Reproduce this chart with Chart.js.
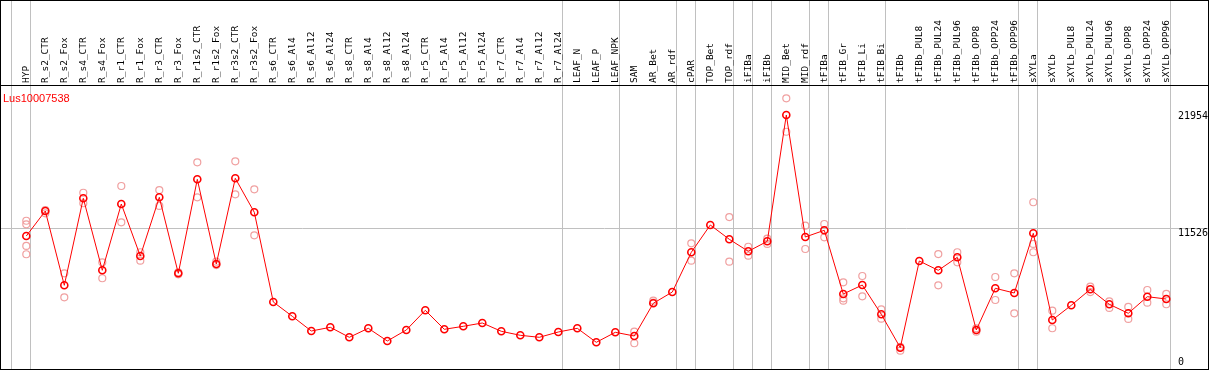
<!DOCTYPE html>
<html>
<head>
<meta charset="utf-8">
<script src="https://cdn.jsdelivr.net/npm/chart.js"></script>
<style>
  body { margin: 0; background: #fff; }
  #wrap { width: 1207px; height: 368px; border: 1px solid #000; }
  canvas { display: block; }
</style>
</head>
<body>
<div id="wrap"><canvas id="chart" width="1207" height="368"></canvas></div>
<script>
const geneId = 'Lus10007538'

const categories = [
  'HYP', 'R_s2_CTR', 'R_s2_Fox', 'R_s4_CTR', 'R_s4_Fox', 'R_r1_CTR', 'R_r1_Fox', 'R_r3_CTR', 'R_r3_Fox',
  'R_r1s2_CTR', 'R_r1s2_Fox', 'R_r3s2_CTR', 'R_r3s2_Fox', 'R_s6_CTR', 'R_s6_Al4', 'R_s6_Al12', 'R_s6_Al24',
  'R_s8_CTR', 'R_s8_Al4', 'R_s8_Al12', 'R_s8_Al24', 'R_r5_CTR', 'R_r5_Al4', 'R_r5_Al12', 'R_r5_Al24',
  'R_r7_CTR', 'R_r7_Al4', 'R_r7_Al12', 'R_r7_Al24', 'LEAF_N', 'LEAF_P', 'LEAF_NPK', 'SAM', 'AR_Bet', 'AR_rdf',
  'cPAR', 'TOP_Bet', 'TOP_rdf', 'iFIBa', 'iFIBb', 'MID_Bet', 'MID_rdf', 'tFIBa', 'tFIB_Gr', 'tFIB_Li', 'tFIB_Bi',
  'tFIBb', 'tFIBb_PUL8', 'tFIBb_PUL24', 'tFIBb_PUL96', 'tFIBb_OPP8', 'tFIBb_OPP24', 'tFIBb_OPP96',
  'sXYLa', 'sXYLb', 'sXYLb_PUL8', 'sXYLb_PUL24', 'sXYLb_PUL96', 'sXYLb_OPP8', 'sXYLb_OPP24', 'sXYLb_OPP96'
]

// mean expression per sample
const means = [
  10839, 13069, 6441, 14202, 7779, 13694, 9055, 14291, 7511, 15897, 8341, 15987, 12953, 4951, 3675, 2364,
  2694, 1802, 2605, 1472, 2453, 4211, 2516, 2783, 3078, 2337, 1980, 1802, 2275, 2605, 1356, 2248, 1918,
  4835, 5843, 9385, 11820, 10545, 9474, 10366, 21633, 10750, 11347, 5665, 6468, 3854, 874, 8609, 7779,
  8939, 2453, 6173, 5754, 11080, 3345, 4657, 6084, 4746, 3943, 5424, 5219
]

// single replicates (only the ones that show apart from the mean)
const replicates = [
  [12200, 11880, 9950, 9210], [13160, 12860], [7510, 5370], [14700, 13760], [8490, 7070],
  [15300, 12060], [9390, 8640], [14940, 13520], [7600, 7420], [17410, 14290], [8550, 8250],
  [17500, 14560], [15000, 10900], [], [], [], [], [], [], [], [], [], [], [], [], [], [], [], [], [], [],
  [], [2300, 1270], [5070, 4900], [], [10190, 8640], [], [12530, 8550], [9880, 9080], [10600, 10130],
  [23120, 20140], [11760, 9680], [11910, 10720], [6710, 5280, 5070], [7270, 5460], [4300, 3460],
  [960, 610], [], [9230, 6440], [9390, 8490], [2600, 2300], [7180, 5130], [7510, 3940],
  [13850, 10130, 9390], [4180, 2610], [], [6320, 5840], [5010, 4420], [4510, 3440], [6020, 4890], [5670, 4750]
]

// samples after which a grey separator is drawn (-1 = before the first one)
const groupEnds = [-1, 0, 28, 31, 34, 35, 37, 38, 39, 41, 42, 45, 52, 53, 60]

const yTicks = [0, 11526, 21954]

const sepOffset = 0.22
const sepValues = groupEnds.map(k => k + sepOffset)
const isSep = v => sepValues.some(s => Math.abs(s - v) < 1e-6)

const meanPoints = means.map((v, i) => ({ x: i, y: v }))
const repPoints = []
replicates.forEach((list, i) => list.forEach(v => repPoints.push({ x: i, y: v })))

function noPadding(scale) {
  scale.paddingLeft = 0
  scale.paddingRight = 0
  scale.paddingTop = 0
  scale.paddingBottom = 0
}

const geneLabel = {
  id: 'geneLabel',
  afterDraw(chart) {
    const { ctx, chartArea } = chart
    ctx.save()
    ctx.font = '11px "Liberation Sans", Arial, sans-serif'
    ctx.fillStyle = '#ff0000'
    ctx.textBaseline = 'top'
    ctx.fillText(chart.data.datasets[0].label, chartArea.left + 2, chartArea.top + 8)
    ctx.restore()
  }
}

const ctx = document.getElementById('chart').getContext('2d')
new Chart(ctx, {
  type: 'line',
  data: {
    datasets: [
      {
        label: geneId,
        data: meanPoints,
        borderColor: '#ff0000',
        borderWidth: 1,
        pointRadius: 3.5,
        pointBorderWidth: 1.6,
        pointBorderColor: '#ff0000',
        pointBackgroundColor: 'rgba(0,0,0,0)',
        tension: 0,
        order: 1
      },
      {
        type: 'scatter',
        label: 'replicates',
        data: repPoints,
        showLine: false,
        pointRadius: 3.5,
        pointBorderWidth: 1.2,
        pointBorderColor: '#f0a0a0',
        pointBackgroundColor: 'rgba(0,0,0,0)',
        order: 2
      }
    ]
  },
  options: {
    responsive: false,
    animation: false,
    layout: { padding: 0, autoPadding: false },
    plugins: { legend: { display: false }, tooltip: { enabled: false } },
    scales: {
      x: {
        type: 'linear',
        position: 'top',
        min: -1.3316,
        max: 62.195,
        afterBuildTicks: scale => {
          const vals = categories.map((c, i) => i).concat(sepValues).sort((a, b) => a - b)
          scale.ticks = vals.map(v => ({ value: v }))
        },
        afterFit: scale => { scale.height = 84; noPadding(scale) },
        ticks: {
          autoSkip: false,
          minRotation: 90,
          maxRotation: 90,
          padding: -82,
          labelOffset: 11.5,
          color: '#000',
          font: { family: '"DejaVu Sans Mono", monospace', size: 9.5 },
          callback: v => Number.isInteger(v) ? categories[v] : ''
        },
        grid: {
          color: c => c.tick && isSep(c.tick.value) ? '#c0c0c0' : 'rgba(0,0,0,0)',
          lineWidth: 1,
          tickLength: 84
        },
        border: { display: true, color: '#000', width: 1 }
      },
      y: {
        type: 'linear',
        position: 'right',
        min: -1026,
        max: 24311,
        afterBuildTicks: scale => { scale.ticks = yTicks.map(v => ({ value: v })) },
        afterFit: scale => { scale.width = 0; noPadding(scale) },
        ticks: {
          mirror: true,
          crossAlign: 'far',
          padding: 0,
          labelOffset: 5,
          color: '#000',
          font: { family: '"DejaVu Sans Mono", monospace', size: 10 },
          callback: v => String(v)
        },
        grid: {
          color: c => c.tick && c.tick.value === 11526 ? '#c0c0c0' : 'rgba(0,0,0,0)',
          drawTicks: false,
          tickLength: 0
        },
        border: { display: false }
      }
    }
  },
  plugins: [geneLabel]
})
</script>
</body>
</html>
